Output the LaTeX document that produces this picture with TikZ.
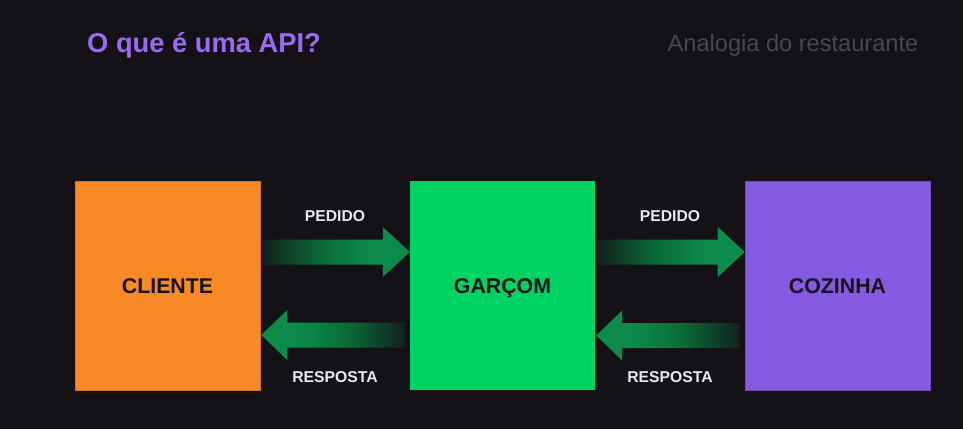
\documentclass[tikz,border=0pt]{standalone}
\usepackage{fontspec}
\setmainfont{Liberation Sans}
\usetikzlibrary{calc}
\definecolor{bgc}{HTML}{141217}
\definecolor{titlec}{HTML}{9A6BF1}
\definecolor{subc}{HTML}{4A484F}
\definecolor{orangec}{HTML}{F78A26}
\definecolor{greenc}{HTML}{00D264}
\definecolor{purplec}{HTML}{855AE1}
\definecolor{arrg}{HTML}{0C8C48}
\definecolor{darkg}{HTML}{0A5F33}
\definecolor{boxtext}{HTML}{16141A}
\definecolor{labc}{HTML}{EAEAEA}
\pgfdeclarehorizontalshading{arrowR}{100bp}{color(0bp)=(bgc); color(25bp)=(bgc!80!darkg); color(45bp)=(darkg!70!arrg); color(62bp)=(arrg); color(100bp)=(arrg)}
\begin{document}
\begin{tikzpicture}[x=1pt,y=-1pt,
  box/.style={minimum width=185pt,minimum height=209pt,inner sep=0pt,
    text height=15.3pt,text depth=0pt,font=\fontsize{21.3}{21}\selectfont\bfseries,text=boxtext},
  lab/.style={anchor=base,inner sep=0pt,text=labc,font=\fontsize{15.7}{15.5}\selectfont\bfseries}]
\fill[bgc] (0,0) rectangle (963,429);
\useasboundingbox (0,0) rectangle (963,429);
\node[anchor=base west,inner sep=0pt,text=titlec,font=\fontsize{27.3}{27}\selectfont\bfseries] (title) at (87,52.5) {O que é uma API?};
\node[anchor=base east,inner sep=0pt,text=subc,font=\fontsize{23.6}{23}\selectfont] (sub) at (918.5,51) {Analogia do restaurante};
\node[box,fill=orangec,draw=orangec!85!black,line width=0.6pt] (cliente) at (167.5,285.5) {CLIENTE};
\node[box,fill=greenc] (garcom) at (502.5,285.5) {GARÇOM};
\node[box,fill=purplec,draw=purplec!85!black,line width=0.6pt] (cozinha) at (837.5,286) {COZINHA};
% arrow coordinates
\coordinate (a1s) at ([xshift=3pt,yshift=33.5pt]cliente.east);
\coordinate (a1e) at ([yshift=33.5pt]garcom.west);
\coordinate (b1s) at ([xshift=-5pt,yshift=-49.5pt]garcom.west);
\coordinate (b1e) at ([xshift=1pt,yshift=-49.5pt]cliente.east);
\coordinate (a2s) at ([xshift=3pt,yshift=33.5pt]garcom.east);
\coordinate (a2e) at ([yshift=33.5pt]cozinha.west);
\coordinate (b2s) at ([xshift=-5pt,yshift=-49.5pt]cozinha.west);
\coordinate (b2e) at ([xshift=1pt,yshift=-49.5pt]garcom.east);
\foreach \s/\e in {a1s/a1e,a2s/a2e}{
  \shade[shading=arrowR] let \p1=(\s), \p2=(\e) in
    (\x1,\y1+12.5pt) -- (\x2-27pt,\y1+12.5pt) -- (\x2-27pt,\y1+25pt) -- (\x2,\y1)
    -- (\x2-27pt,\y1-25pt) -- (\x2-27pt,\y1-12.5pt) -- (\x1,\y1-12.5pt) -- cycle;
}
\foreach \s/\e in {b1s/b1e,b2s/b2e}{
  \shade[shading=arrowR,shading angle=180] let \p1=(\s), \p2=(\e) in
    (\x1,\y1+12.5pt) -- (\x2+26pt,\y1+12.5pt) -- (\x2+26pt,\y1+25pt) -- (\x2,\y1)
    -- (\x2+26pt,\y1-25pt) -- (\x2+26pt,\y1-12.5pt) -- (\x1,\y1-12.5pt) -- cycle;
}
\node[lab] (p1) at (335,221.5) {PEDIDO};
\node[lab] (r1) at (335,382.5) {RESPOSTA};
\node[lab] (p2) at (670,221.5) {PEDIDO};
\node[lab] (r2) at (670,382.5) {RESPOSTA};
\end{tikzpicture}
\end{document}
